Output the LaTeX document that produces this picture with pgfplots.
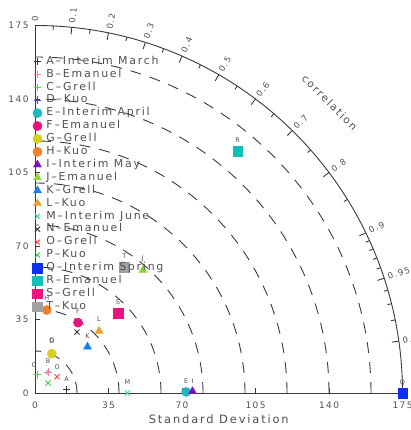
\documentclass[border=0pt]{standalone}
\usepackage{pgfplots}
\pgfplotsset{compat=1.18}
\usepackage{fontspec}
\setmainfont{DejaVu Sans}[LetterSpace=16]
\definecolor{txt}{HTML}{505050}
\definecolor{axcol}{HTML}{3A3A3A}
\definecolor{cA}{HTML}{333333}
\definecolor{cB}{HTML}{FF7F9A}
\definecolor{cC}{HTML}{44DD44}
\definecolor{cD}{HTML}{3344FF}
\definecolor{cE}{HTML}{20B8C0}
\definecolor{cF}{HTML}{E8107A}
\definecolor{cG}{HTML}{D9CF1F}
\definecolor{cH}{HTML}{F08030}
\definecolor{cI}{HTML}{7A10C0}
\definecolor{cJ}{HTML}{8CD43A}
\definecolor{cK}{HTML}{1A7FF0}
\definecolor{cL}{HTML}{E8A030}
\definecolor{cM}{HTML}{40D0C0}
\definecolor{cN}{HTML}{333333}
\definecolor{cO}{HTML}{F05050}
\definecolor{cP}{HTML}{40D040}
\definecolor{cQ}{HTML}{1030F0}
\definecolor{cR}{HTML}{10C0B8}
\definecolor{cS}{HTML}{F01080}
\definecolor{cT}{HTML}{A0A0A0}
\begin{document}
\begin{tikzpicture}
% frame: standard deviation arcs (dashed), outer correlation arc
\begin{scope}[line width=0.9bp, draw=axcol]
\foreach \r in {20,40,...,160}{
  \draw[axcol, dash pattern=on 11bp off 9bp] (\r*2.1bp,0) arc[start angle=0,end angle=90,radius=\r*2.1bp];
}
\draw[axcol] (175*2.1bp,0) arc[start angle=0,end angle=90,radius=175*2.1bp];
\foreach \c in {0,0.1,0.2,0.3,0.4,0.5,0.6,0.7,0.8,0.9,0.95,0.99}{
  \draw[axcol] ({acos(\c)}:367.5bp) -- ({acos(\c)}:360.5bp);
  \node[rotate={acos(\c)}, anchor=west, inner sep=1bp, text=txt,
        font=\fontsize{8.5}{9}\selectfont] at ({acos(\c)}:370bp) {\c};
}
\foreach \c in {0.05,0.15,0.25,0.35,0.45,0.55,0.65,0.75,0.85,0.91,0.92,0.93,0.94,0.96,0.97,0.98}{
  \draw[axcol] ({acos(\c)}:367.5bp) -- ({acos(\c)}:363.5bp);
}
\node[rotate=-45, text=txt, font=\fontsize{10.5}{12}\selectfont] at (44.6:414bp) {correlation};
\end{scope}
\begin{axis}[
  anchor=origin, at={(0,0)}, x=2.1bp, y=2.1bp,
  xmin=0, xmax=175, ymin=0, ymax=175,
  axis lines=left, axis line style={-, draw=axcol, line width=0.9bp},
  xtick={0,35,...,175}, ytick={0,35,...,175},
  tick align=inside, major tick length=5bp, tick style={axcol, line width=0.9bp},
  ticklabel style={font=\fontsize{9}{10}\selectfont, text=txt},
  xticklabel style={yshift=-5bp},
  yticklabel style={xshift=-3bp},
  /pgf/number format/assume math mode=true,
  xlabel={Standard Deviation},
  xlabel style={at={(axis description cs:0.5,0)}, anchor=center, yshift=-26bp,
    font=\fontsize{11.5}{12}\selectfont, text=txt},
  clip=false,
  legend cell align=left,
  legend image code/.code={\draw[#1] plot coordinates {(0bp,0bp)};},
  legend style={at={(axis cs:-1.2,161)}, anchor=north west, draw=none, fill=none,
    font=\fontsize{11}{12}\selectfont, text=txt, row sep=0bp, column sep=3bp, inner sep=0bp,
    nodes={text height=8bp, text depth=2.5bp, inner sep=1.2bp}},
]
\addplot[only marks, mark=+, mark size=3.8bp, line width=0.9bp, cA] coordinates {(15,1.5)};
\addlegendentry{A--Interim March}
\addplot[only marks, mark=+, mark size=3.8bp, line width=0.9bp, cB] coordinates {(6.2,10)};
\addlegendentry{B--Emanuel}
\addplot[only marks, mark=+, mark size=3.8bp, line width=0.9bp, cC] coordinates {(1,8.6)};
\addlegendentry{C--Grell}
\addplot[only marks, mark=+, mark size=3.8bp, line width=0.9bp, cD] coordinates {(8,19)};
\addlegendentry{D--Kuo}
\addplot[only marks, mark=*, mark size=4.6bp, mark options={draw=cE, fill=cE}] coordinates {(72,0.5)};
\addlegendentry{E--Interim April}
\addplot[only marks, mark=*, mark size=4.6bp, mark options={draw=cF, fill=cF}] coordinates {(20.5,33.5)};
\addlegendentry{F--Emanuel}
\addplot[only marks, mark=*, mark size=4.6bp, mark options={draw=cG, fill=cG}] coordinates {(8,18.7)};
\addlegendentry{G--Grell}
\addplot[only marks, mark=*, mark size=4.6bp, mark options={draw=cH, fill=cH}] coordinates {(5.6,39.5)};
\addlegendentry{H--Kuo}
\addplot[only marks, mark=triangle*, mark size=4.6bp, mark options={draw=cI, fill=cI}] coordinates {(75,0.8)};
\addlegendentry{I--Interim May}
\addplot[only marks, mark=triangle*, mark size=4.6bp, mark options={draw=cJ, fill=cJ}] coordinates {(51.4,58.5)};
\addlegendentry{J--Emanuel}
\addplot[only marks, mark=triangle*, mark size=4.6bp, mark options={draw=cK, fill=cK}] coordinates {(25,22)};
\addlegendentry{K--Grell}
\addplot[only marks, mark=triangle*, mark size=4.6bp, mark options={draw=cL, fill=cL}] coordinates {(30.5,29.5)};
\addlegendentry{L--Kuo}
\addplot[only marks, mark=x, mark size=3.6bp, line width=0.9bp, cM] coordinates {(44,0)};
\addlegendentry{M--Interim June}
\addplot[only marks, mark=x, mark size=3.6bp, line width=0.9bp, cN] coordinates {(20,29)};
\addlegendentry{N--Emanuel}
\addplot[only marks, mark=x, mark size=3.6bp, line width=0.9bp, cO] coordinates {(10.5,7.7)};
\addlegendentry{O--Grell}
\addplot[only marks, mark=x, mark size=3.6bp, line width=0.9bp, cP] coordinates {(6.2,4.8)};
\addlegendentry{P--Kuo}
\addplot[only marks, mark=square*, mark size=4.8bp, mark options={draw=cQ, fill=cQ}] coordinates {(175,0)};
\addlegendentry{Q--Interim Spring}
\addplot[only marks, mark=square*, mark size=4.8bp, mark options={draw=cR, fill=cR}] coordinates {(96.5,115)};
\addlegendentry{R--Emanuel}
\addplot[only marks, mark=square*, mark size=4.8bp, mark options={draw=cS, fill=cS}] coordinates {(39.5,38)};
\addlegendentry{S--Grell}
\addplot[only marks, mark=square*, mark size=4.8bp, mark options={draw=cT, fill=cT}] coordinates {(42.5,59.8)};
\addlegendentry{T--Kuo}
% point letters
\begin{scope}[every node/.style={text=txt, font=\fontsize{6.5}{7}\selectfont, inner sep=0pt}]
\node at (axis cs:15,6.5) {A};
\node at (axis cs:6.2,15) {B};
\node at (axis cs:-0.5,13.5) {C};
\node at (axis cs:8,24.5) {D};
\node at (axis cs:8,25) {G};
\node at (axis cs:72,5.5) {E};
\node at (axis cs:20.5,39) {F};
\node at (axis cs:5.6,45) {H};
\node at (axis cs:75,5.5) {I};
\node at (axis cs:51.4,64) {J};
\node at (axis cs:25,27) {K};
\node at (axis cs:30.5,35) {L};
\node at (axis cs:44,5) {M};
\node at (axis cs:20,34) {N};
\node at (axis cs:10.5,12.5) {O};
\node at (axis cs:6.2,9.5) {P};
\node at (axis cs:175,5) {Q};
\node at (axis cs:96.5,120.5) {R};
\node at (axis cs:39.5,43.5) {S};
\node at (axis cs:42.5,65) {T};
\end{scope}
\end{axis}
\pgfresetboundingbox
\path[use as bounding box] (-35bp,-37bp) rectangle (376bp,393bp);
\end{tikzpicture}
\end{document}
